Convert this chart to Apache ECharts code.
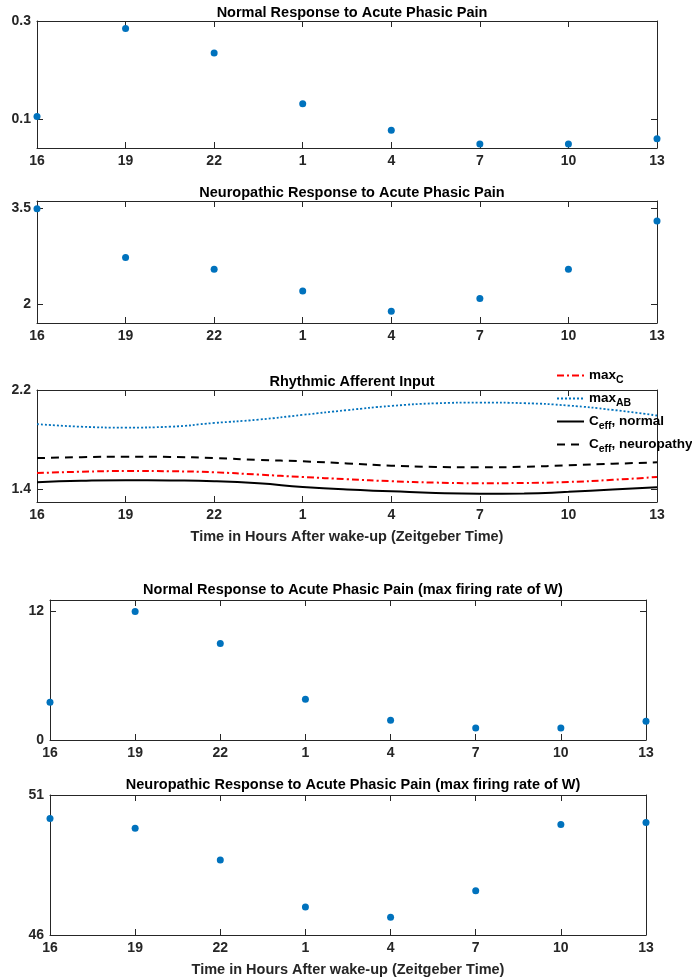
<!DOCTYPE html>
<html>
<head>
<meta charset="utf-8">
<script src="https://cdn.jsdelivr.net/npm/echarts@6/dist/echarts.min.js"></script>
<style>
  html, body { margin: 0; padding: 0; background: #fff; }
  #chart { width: 692px; height: 979px; }
</style>
</head>
<body>
<div id="chart"></div>
<script>
// x axis: hours elapsed since ZT16, labelled with zeitgeber time
const xTickLabels = ['16', '19', '22', '1', '4', '7', '10', '13'];
const sampleHours = [0, 3, 6, 9, 12, 15, 18, 21];
const curveHours = [0, 1.5, 3, 4.5, 6, 7.5, 9, 10.5, 12, 13.5, 15, 16.5, 18, 19.5, 21];

// scatter panels
const normalPhasic = [0.106, 0.285, 0.235, 0.132, 0.078, 0.050, 0.050, 0.061];
const neuroPhasic = [3.50, 2.73, 2.545, 2.205, 1.885, 2.084, 2.545, 3.306];
const normalFiringW = [3.52, 11.97, 8.98, 3.80, 1.84, 1.12, 1.12, 1.75];
const neuroFiringW = [50.16, 49.81, 48.68, 47.00, 46.63, 47.58, 49.95, 50.02];

// rhythmic afferent input curves
const maxC = [1.533, 1.543, 1.549, 1.547, 1.539, 1.520, 1.501, 1.483, 1.467, 1.456, 1.451, 1.453, 1.461, 1.478, 1.501];
const maxAB = [1.926, 1.905, 1.898, 1.905, 1.935, 1.962, 2.000, 2.038, 2.072, 2.093, 2.099, 2.094, 2.075, 2.040, 1.995];
const ceffNormal = [1.459, 1.470, 1.475, 1.473, 1.467, 1.450, 1.421, 1.400, 1.386, 1.372, 1.366, 1.368, 1.382, 1.400, 1.418];
const ceffNeuro = [1.653, 1.660, 1.664, 1.662, 1.653, 1.638, 1.627, 1.610, 1.592, 1.582, 1.579, 1.583, 1.595, 1.607, 1.619];

// y tick labels per panel
const yTicks1 = [0.1, 0.3];
const yTicks2 = [2, 3.5];
const yTicks3 = [1.4, 2.2];
const yTicks4 = [0, 12];
const yTicks5 = [46, 51];

const FONT = "'Liberation Sans', Arial, sans-serif";
const AXIS_COLOR = '#262626';
const BLUE = '#0072BD';

const panels = [
  { grid: { left: 37, top: 21, width: 620, height: 127 }, ymin: 0.042, ymax: 0.3, ticks: yTicks1, title: 'Normal Response to Acute Phasic Pain', xname: '' },
  { grid: { left: 37, top: 201, width: 620, height: 122 }, ymin: 1.70, ymax: 3.62, ticks: yTicks2, title: 'Neuropathic Response to Acute Phasic Pain', xname: '' },
  { grid: { left: 37, top: 390, width: 620, height: 112 }, ymin: 1.3, ymax: 2.2, ticks: yTicks3, title: 'Rhythmic Afferent Input', xname: 'Time in Hours After wake-up (Zeitgeber Time)' },
  { grid: { left: 50, top: 600, width: 596, height: 140 }, ymin: 0, ymax: 13.03, ticks: yTicks4, title: 'Normal Response to Acute Phasic Pain (max firing rate of W)', xname: '' },
  { grid: { left: 50, top: 795, width: 596, height: 140 }, ymin: 46, ymax: 51, ticks: yTicks5, title: 'Neuropathic Response to Acute Phasic Pain (max firing rate of W)', xname: 'Time in Hours After wake-up (Zeitgeber Time)' }
];

const grids = [], xAxes = [], yAxes = [], titles = [];
panels.forEach((p, i) => {
  grids.push(p.grid);
  titles.push({
    text: p.title,
    left: p.grid.left + p.grid.width / 2,
    top: p.grid.top - (i >= 3 ? 23 : 21),
    textAlign: 'center',
    textStyle: { fontFamily: FONT, fontSize: 14.5, fontWeight: 'bold', color: '#000' }
  });
  const xBase = {
    type: 'value', gridIndex: i, min: 0, max: 21, interval: 3,
    axisLine: { show: true, onZero: false, lineStyle: { color: AXIS_COLOR, width: 1 } },
    axisTick: { show: true, inside: true, length: 6, lineStyle: { color: AXIS_COLOR } },
    splitLine: { show: false }
  };
  xAxes.push(Object.assign({}, xBase, {
    position: 'bottom',
    axisLabel: {
      margin: 6, fontFamily: FONT, fontSize: 14, fontWeight: 'bold', color: AXIS_COLOR,
      formatter: v => xTickLabels[Math.round(v / 3)]
    },
    name: p.xname, nameLocation: 'middle', nameGap: 27,
    nameTextStyle: { fontFamily: FONT, fontSize: 14.5, fontWeight: 'bold', color: AXIS_COLOR }
  }));
  xAxes.push(Object.assign({}, xBase, { position: 'top', axisLabel: { show: false } }));
  const yBase = {
    type: 'value', gridIndex: i, min: p.ymin, max: p.ymax,
    axisLine: { show: true, onZero: false, lineStyle: { color: AXIS_COLOR, width: 1 } },
    axisTick: { show: true, inside: true, length: 6, customValues: p.ticks, lineStyle: { color: AXIS_COLOR } },
    splitLine: { show: false }
  };
  yAxes.push(Object.assign({}, yBase, {
    position: 'left',
    axisLabel: { margin: 6, customValues: p.ticks, fontFamily: FONT, fontSize: 14, fontWeight: 'bold', color: AXIS_COLOR }
  }));
  yAxes.push(Object.assign({}, yBase, { position: 'right', axisLabel: { show: false } }));
});

function pairs(xs, ys) {
  return xs.map((x, k) => [x, ys[k]]);
}

function scatter(idx, values) {
  return {
    type: 'scatter', xAxisIndex: idx * 2, yAxisIndex: idx * 2,
    data: pairs(sampleHours, values), symbolSize: 7, clip: false,
    itemStyle: { color: BLUE, opacity: 1 }
  };
}

function curve(name, values, color, type, width) {
  return {
    name: name, type: 'line', xAxisIndex: 4, yAxisIndex: 4,
    data: pairs(curveHours, values), smooth: true, symbol: 'none',
    lineStyle: { color: color, type: type, width: width },
    itemStyle: { color: color }
  };
}

const legendText = {
  'max_C': 'max{sub|C}',
  'max_AB': 'max{sub|AB}',
  'C_eff, normal': 'C{sub|eff}, normal',
  'C_eff, neuropathy': 'C{sub|eff}, neuropathy'
};

const option = {
  animation: false,
  title: titles,
  grid: grids,
  xAxis: xAxes,
  yAxis: yAxes,
  legend: {
    data: ['max_C', 'max_AB', 'C_eff, normal', 'C_eff, neuropathy'],
    orient: 'vertical', left: 551, top: 360,
    itemWidth: 27, itemHeight: 14, itemGap: 2,
    itemStyle: { opacity: 0 },
    formatter: name => legendText[name],
    textStyle: {
      fontFamily: FONT, fontSize: 13.5, fontWeight: 'bold', color: '#000',
      rich: {
        sub: { fontFamily: FONT, fontSize: 10.5, fontWeight: 'bold', color: '#000', lineHeight: 12, padding: [10, 0, 0, 0] }
      }
    }
  },
  series: [
    scatter(0, normalPhasic),
    scatter(1, neuroPhasic),
    curve('max_C', maxC, '#FF0000', [7, 3, 2, 3], 2),
    curve('max_AB', maxAB, BLUE, [2, 2], 1.8),
    curve('C_eff, normal', ceffNormal, '#000', 'solid', 2),
    curve('C_eff, neuropathy', ceffNeuro, '#000', [8, 6], 2),
    scatter(3, normalFiringW),
    scatter(4, neuroFiringW)
  ]
};

const chart = echarts.init(document.getElementById('chart'));
chart.setOption(option);
</script>
</body>
</html>
